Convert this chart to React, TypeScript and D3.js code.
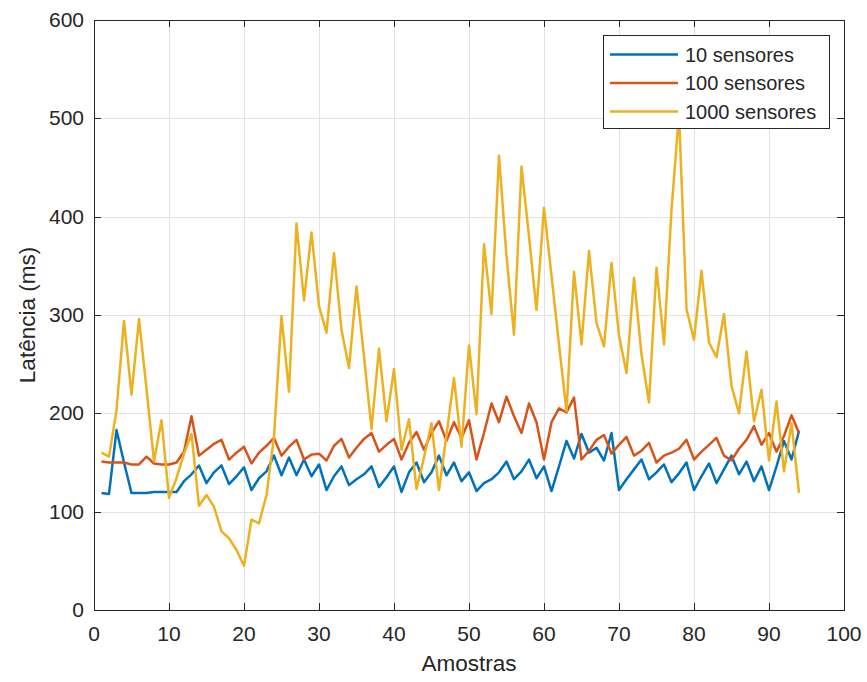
import React, { useEffect, useRef } from "react";
import * as d3 from "d3";

// amostras 1..94
const amostras = d3.range(1, 95);

const lat10 = [
  119, 118, 183, 150, 119, 119, 119, 120, 120, 120, 120, 131, 138, 147, 129, 140, 147, 128, 136, 145,
  122, 134, 141, 157, 137, 155, 137, 153, 136, 148, 122, 136, 146, 127, 133, 138, 146, 125, 135, 146,
  120, 140, 150, 130, 140, 157, 137, 150, 131, 140, 121, 129, 133, 140, 151, 133, 141, 153, 134, 146,
  121, 146, 172, 154, 179, 160, 165, 152, 180, 122, 133, 143, 153, 133, 140, 148, 130, 139, 150, 122,
  136, 149, 129, 143, 157, 138, 151, 131, 146, 122, 146, 172, 153, 182,
];

const lat100 = [
  151, 150, 150, 150, 148, 148, 156, 149, 148, 148, 150, 161, 197, 157, 163, 169, 173, 153, 160, 166,
  149, 160, 167, 175, 157, 166, 173, 153, 158, 159, 152, 167, 174, 155, 165, 174, 180, 161, 168, 174,
  153, 170, 181, 163, 180, 192, 172, 191, 175, 193, 153, 180, 210, 191, 217, 197, 180, 210, 191, 153,
  191, 205, 201, 216, 153, 162, 173, 178, 159, 168, 176, 157, 162, 170, 150, 157, 160, 164, 173, 153,
  161, 168, 175, 157, 152, 164, 173, 187, 168, 180, 161, 177, 198, 180,
];

const lat1000 = [
  160, 156, 203, 294, 219, 296, 225, 151, 193, 114, 134, 159, 179, 106, 117, 105, 80, 73, 61, 45,
  92, 88, 117, 176, 299, 222, 393, 315, 384, 309, 282, 363, 285, 246, 329, 258, 184, 266, 192, 245,
  163, 194, 123, 155, 190, 122, 178, 236, 166, 269, 199, 372, 301, 462, 360, 280, 451, 380, 305, 409,
  340, 270, 202, 344, 270, 365, 292, 268, 353, 279, 241, 338, 260, 211, 348, 270, 407, 505, 306, 275,
  345, 272, 257, 301, 228, 200, 263, 192, 224, 152, 212, 141, 190, 119,
];

const seriesNames = ["10 sensores", "100 sensores", "1000 sensores"];
const seriesColors = ["#0072BD", "#D95319", "#EDB120"];
const xTicks = d3.range(0, 101, 10);
const yTicks = d3.range(0, 601, 100);

const W = 867;
const H = 682;
const margin = { left: 94, right: 23, top: 20, bottom: 72 };
const axisColor = "#262626";
const font = "'Liberation Sans', Arial, Helvetica, sans-serif";

const App = () => {
  const svgRef = useRef(null);

  useEffect(() => {
    const svg = d3.select(svgRef.current);
    svg.selectAll("*").remove();

    const x = d3.scaleLinear().domain([0, 100]).range([margin.left, W - margin.right]);
    const y = d3.scaleLinear().domain([0, 600]).range([H - margin.bottom, margin.top]);
    const [x0, x1] = x.range();
    const [y0, y1] = y.range();

    svg.append("rect").attr("width", W).attr("height", H).attr("fill", "white");

    svg.append("defs").append("clipPath").attr("id", "plot-clip")
      .append("rect")
      .attr("x", x0).attr("y", y1)
      .attr("width", x1 - x0).attr("height", y0 - y1);

    // grid
    const grid = svg.append("g").attr("stroke", "#e3e3e3").attr("stroke-width", 1);
    grid.selectAll(".gx").data(xTicks.slice(1, -1)).enter().append("line")
      .attr("x1", (d) => Math.round(x(d)) + 0.5).attr("x2", (d) => Math.round(x(d)) + 0.5)
      .attr("y1", y1).attr("y2", y0);
    grid.selectAll(".gy").data(yTicks.slice(1, -1)).enter().append("line")
      .attr("y1", (d) => Math.round(y(d)) + 0.5).attr("y2", (d) => Math.round(y(d)) + 0.5)
      .attr("x1", x0).attr("x2", x1);

    // lines
    const line = d3.line().x((d, i) => x(amostras[i])).y((d) => y(d));
    const plot = svg.append("g").attr("clip-path", "url(#plot-clip)");
    [lat10, lat100, lat1000].forEach((s, k) => {
      plot.append("path")
        .datum(s)
        .attr("d", line)
        .attr("fill", "none")
        .attr("stroke", seriesColors[k])
        .attr("stroke-width", 2.5)
        .attr("stroke-linejoin", "round");
    });

    // box + ticks
    const ax = svg.append("g").attr("stroke", axisColor).attr("stroke-width", 1);
    ax.append("rect")
      .attr("x", x0 + 0.5).attr("y", y1 + 0.5)
      .attr("width", x1 - x0).attr("height", y0 - y1)
      .attr("fill", "none");
    const tl = 7;
    xTicks.forEach((t) => {
      const px = Math.round(x(t)) + 0.5;
      ax.append("line").attr("x1", px).attr("x2", px).attr("y1", y0).attr("y2", y0 - tl);
      ax.append("line").attr("x1", px).attr("x2", px).attr("y1", y1).attr("y2", y1 + tl);
    });
    yTicks.forEach((t) => {
      const py = Math.round(y(t)) + 0.5;
      ax.append("line").attr("x1", x0).attr("x2", x0 + tl).attr("y1", py).attr("y2", py);
      ax.append("line").attr("x1", x1).attr("x2", x1 - tl).attr("y1", py).attr("y2", py);
    });

    // tick labels
    svg.append("g").selectAll("text").data(xTicks).enter().append("text")
      .attr("x", (d) => x(d)).attr("y", y0 + 31)
      .attr("text-anchor", "middle")
      .attr("font-family", font).attr("font-size", 21).attr("fill", axisColor)
      .text((d) => d);
    svg.append("g").selectAll("text").data(yTicks).enter().append("text")
      .attr("x", x0 - 10).attr("y", (d) => y(d) + 7)
      .attr("text-anchor", "end")
      .attr("font-family", font).attr("font-size", 21).attr("fill", axisColor)
      .text((d) => d);

    // axis labels
    svg.append("text")
      .attr("x", (x0 + x1) / 2).attr("y", H - 11)
      .attr("text-anchor", "middle")
      .attr("font-family", font).attr("font-size", 22.5).attr("fill", axisColor)
      .text("Amostras");
    svg.append("text")
      .attr("transform", `translate(35,${(y0 + y1) / 2}) rotate(-90)`)
      .attr("text-anchor", "middle")
      .attr("font-family", font).attr("font-size", 22.5).attr("fill", axisColor)
      .text("Latência (ms)");

    // legend
    const lg = svg.append("g").attr("transform", "translate(603,35)");
    lg.append("rect")
      .attr("x", 0.5).attr("y", 0.5).attr("width", 226).attr("height", 93)
      .attr("fill", "white").attr("stroke", axisColor).attr("stroke-width", 1);
    seriesNames.forEach((name, k) => {
      const ry = 19.5 + k * 28.5;
      lg.append("line")
        .attr("x1", 7).attr("x2", 75).attr("y1", ry).attr("y2", ry)
        .attr("stroke", seriesColors[k]).attr("stroke-width", 2.5);
      lg.append("text")
        .attr("x", 82).attr("y", ry + 7)
        .attr("font-family", font).attr("font-size", 20).attr("fill", axisColor)
        .text(name);
    });
  }, []);

  return (
    <svg
      ref={svgRef}
      width={W}
      height={H}
      style={{ position: "absolute", left: 0, top: 0, display: "block" }}
    />
  );
};

export default App;
